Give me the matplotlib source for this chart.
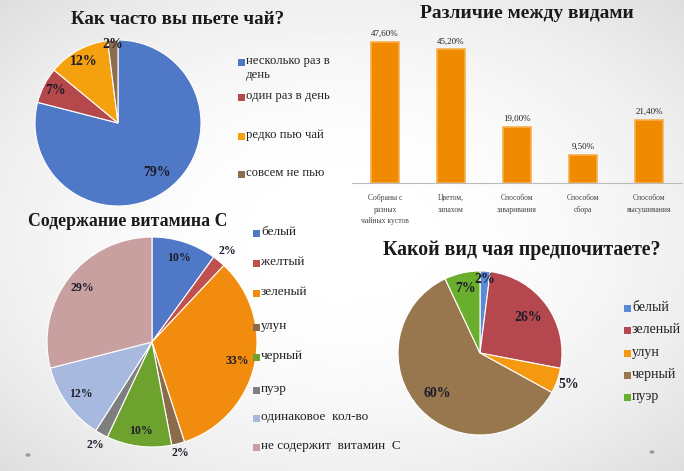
import numpy as np
import matplotlib
matplotlib.use("Agg")
import matplotlib.pyplot as plt
from matplotlib.patches import Rectangle, Circle

W, H = 684, 471

# --- data ---
freq_labels = ["несколько раз в\nдень", "один раз в день", "редко пью чай", "совсем не пью"]
freq_values = [79, 7, 12, 2]
freq_colors = ["#4F79C6", "#B5484A", "#F5A00F", "#8C6E4C"]

diff_categories = ["Собраны с\nразных\nчайных кустов", "Цветом,\nзапахом",
                   "Способом\nзаваривания", "Способом\nсбора", "Способом\nвысушивания"]
diff_values = [47.6, 45.2, 19.0, 9.5, 21.4]

vit_labels = ["белый", "желтый", "зеленый", "улун", "черный", "пуэр",
              "одинаковое  кол-во", "не содержит  витамин  С"]
vit_values = [10, 2, 33, 2, 10, 2, 12, 29]
vit_colors = ["#4F79C6", "#C0504D", "#F28C0F", "#8B6B4A", "#6EA22E",
              "#7F7F7F", "#A8B9E0", "#C9A0A0"]

pref_labels = ["белый", "зеленый", "улун", "черный", "пуэр"]
pref_values = [2, 26, 5, 60, 7]
pref_colors = ["#5B8BD6", "#B5474F", "#F59A10", "#98774F", "#6AAE2E"]

SERIF = "Liberation Serif"


def fx(x):
    return x / W


def fy(y):
    return 1 - y / H


def px_axes(fig, x0, y0, w, h):
    return fig.add_axes([x0 / W, 1 - (y0 + h) / H, w / W, h / H])


def draw_pie(fig, cx, cy, r, values, colors, dists, fontsize, txtcolor="#1c1c2a"):
    ax = px_axes(fig, cx - r, cy - r, 2 * r, 2 * r)
    wedges, _ = ax.pie(values, colors=colors, startangle=90, counterclock=False,
                       wedgeprops=dict(edgecolor="white", linewidth=0.8))
    ax.set_xlim(-1, 1)
    ax.set_ylim(-1, 1)
    ax.axis("off")
    for w, v, d in zip(wedges, values, dists):
        ang = np.deg2rad((w.theta1 + w.theta2) / 2)
        ax.text(d * np.cos(ang), d * np.sin(ang), f"{v}%", ha="center", va="center",
                fontsize=fontsize, fontweight="bold", family=SERIF, color=txtcolor)
    return ax


def draw_legend(fig, x, ys, labels, colors, fontsize):
    for y, lab, c in zip(ys, labels, colors):
        fig.patches.append(Rectangle((fx(x - 3.5), fy(y + 3.5)), 7 / W, 7 / H,
                                     transform=fig.transFigure, facecolor=c,
                                     edgecolor="none"))
        fig.text(fx(x + 5), fy(y - 7), lab, ha="left", va="top", fontsize=fontsize,
                 family=SERIF, color="#222222", linespacing=1.25)


fig = plt.figure(figsize=(W / 100, H / 100), dpi=100)

# soft gray background
bg = fig.add_axes([0, 0, 1, 1], zorder=-10)
yy, xx = np.mgrid[0:1:200j, 0:1:300j]
d = np.sqrt((xx - 0.5) ** 2 + (yy - 0.5) ** 2) / np.sqrt(0.5)
bg.imshow(1 - 0.13 * d ** 2.2, cmap="gray", vmin=0, vmax=1, aspect="auto",
          extent=[0, 1, 0, 1])
bg.axis("off")

# --- top-left pie ---
fig.text(fx(178), fy(20), "Как часто вы пьете чай?", ha="center", va="center",
         fontsize=13.7, fontweight="bold", family=SERIF, color="#1a1a1a")
draw_pie(fig, 118, 123, 83, freq_values, freq_colors, [0.76, 0.85, 0.85, 0.95], 10)
draw_legend(fig, 241, [62, 97, 136, 174], freq_labels, freq_colors, 9.2)

# --- top-right bars ---
fig.text(fx(527), fy(13), "Различие между видами", ha="center", va="center",
         fontsize=14, fontweight="bold", family=SERIF, color="#1a1a1a")
ax = px_axes(fig, 352, 30, 330, 153)
ax.patch.set_alpha(0)
xs = np.arange(len(diff_values))
ax.bar(xs, diff_values, width=0.41, color="#F08A00", edgecolor="#F7B04C", linewidth=1.2)
for x, v in zip(xs, diff_values):
    ax.text(x, v + 1.3, f"{v:.2f}%".replace(".", ","), ha="center", va="bottom",
            fontsize=6.5, family=SERIF, color="#222222")
ax.set_xlim(-0.5, len(diff_values) - 0.5)
ax.set_ylim(0, 51.7)
ax.set_yticks([])
ax.set_xticks(xs)
ax.set_xticklabels(diff_categories, fontsize=5.5, family=SERIF, color="#444444",
                   linespacing=1.6)
ax.tick_params(axis="x", length=0, pad=8)
for s in ["top", "right", "left"]:
    ax.spines[s].set_visible(False)
ax.spines["bottom"].set_color("#BBBBBB")

# --- bottom-left pie ---
fig.text(fx(128), fy(222), "Содержание витамина С", ha="center", va="center",
         fontsize=12.8, fontweight="bold", family=SERIF, color="#1a1a1a")
draw_pie(fig, 152, 342, 105, vit_values, vit_colors,
         [0.84, 1.13, 0.83, 1.09, 0.85, 1.12, 0.84, 0.84], 8.5)
draw_legend(fig, 256, [233, 263, 293, 327, 357, 390, 418, 447], vit_labels, vit_colors, 9.5)

# --- bottom-right pie ---
fig.text(fx(522), fy(250), "Какой вид чая предпочитаете?", ha="center", va="center",
         fontsize=14.3, fontweight="bold", family=SERIF, color="#1a1a1a")
draw_pie(fig, 480, 353, 82, pref_values, pref_colors, [0.9, 0.73, 1.15, 0.72, 0.8], 10)
draw_legend(fig, 627, [308, 330, 353, 375, 397], pref_labels, pref_colors, 10)

# small slide dots
for x, y in [(28, 455), (652, 452)]:
    fig.patches.append(Circle((fx(x), fy(y)), 2.5 / W, transform=fig.transFigure,
                              facecolor="#999999", edgecolor="none"))

fig.savefig("out.png", dpi=100)
